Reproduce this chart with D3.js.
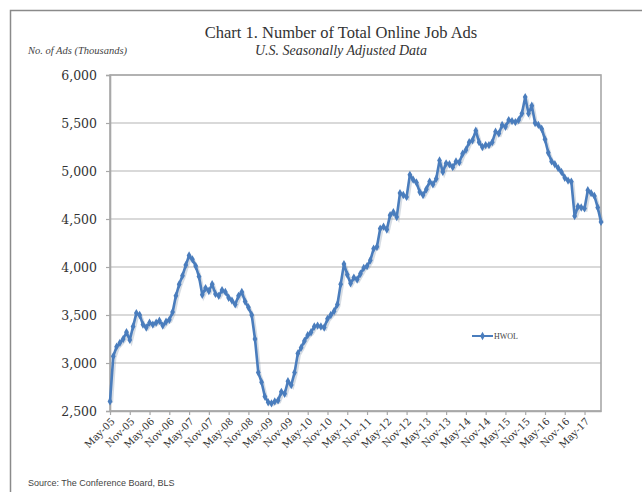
<!DOCTYPE html>
<html>
<head>
<meta charset="utf-8">
<script src="https://cdn.jsdelivr.net/npm/d3@7"></script>
<style>
  html, body { margin: 0; padding: 0; background: #fff; }
  svg { display: block; }
</style>
</head>
<body>
<svg id="chart" width="642" height="492"></svg>
<script>
// Monthly series, May 2005 through September 2017 (thousands of ads)
const startMonth = "2005-05";
const hwolValues = [
  2600, 3070, 3170, 3210, 3250, 3320, 3240, 3380, 3520, 3500, 3400, 3370,
  3420, 3400, 3420, 3440, 3390, 3430, 3450, 3530, 3700, 3820, 3910, 4020,
  4120, 4080, 4010, 3900, 3710, 3780, 3750, 3820, 3720, 3700, 3760, 3740,
  3680, 3650, 3610, 3700, 3740, 3640, 3580, 3500, 3250, 2900, 2800, 2650,
  2590, 2580, 2600, 2610, 2700, 2680, 2810, 2770, 2900, 3100, 3160, 3230,
  3290, 3320, 3380, 3390, 3380, 3370, 3460, 3500, 3540, 3610, 3820, 4030,
  3920, 3830, 3890, 3870, 3930, 3990, 4010, 4070, 4190, 4210, 4400, 4420,
  4390, 4540, 4570, 4520, 4770, 4750, 4730, 4960, 4910, 4880, 4780, 4750,
  4810, 4890, 4860, 4920, 5110, 4990, 5080, 5070, 5040, 5100, 5090, 5180,
  5220, 5300, 5320, 5420, 5300, 5250, 5270, 5270, 5300, 5410, 5390, 5480,
  5460, 5530, 5520, 5510, 5530, 5600, 5770, 5600, 5680, 5500, 5480, 5440,
  5330, 5190, 5100, 5070, 5030, 4990, 4930, 4900, 4890, 4530, 4630, 4620,
  4610, 4800, 4770, 4740, 4620, 4470
];
const yTicks = [2500, 3000, 3500, 4000, 4500, 5000, 5500, 6000];
const xTickLabels = [
  "May-05", "Nov-05", "May-06", "Nov-06", "May-07", "Nov-07", "May-08", "Nov-08",
  "May-09", "Nov-09", "May-10", "Nov-10", "May-11", "Nov-11", "May-12", "Nov-12",
  "May-13", "Nov-13", "May-14", "Nov-14", "May-15", "Nov-15", "May-16", "Nov-16",
  "May-17"
];
const seriesName = "HWOL";

const parseMonth = d3.timeParse("%Y-%m");
const first = parseMonth(startMonth);
const months = hwolValues.map((_, i) => d3.timeMonth.offset(first, i));
const data = hwolValues.map((v, i) => ({ i, date: months[i], value: v }));

const svg = d3.select("#chart");
const plot = { left: 110, right: 601, top: 75, bottom: 411 };

const x = d3.scaleLinear().domain([0, hwolValues.length - 1]).range([plot.left, plot.right]);
const y = d3.scaleLinear().domain([2500, 6000]).range([plot.bottom, plot.top]);

const serif = "'DejaVu Serif', 'Liberation Serif', serif";
const titleSerif = "'Liberation Serif', 'DejaVu Serif', serif";
const blue = "#4a7dbd";

// Outer frame
svg.append("rect")
  .attr("x", 10.5).attr("y", 10.5)
  .attr("width", 700).attr("height", 520)
  .attr("fill", "none").attr("stroke", "#8a8a8a").attr("stroke-width", 1.5);

// Titles
svg.append("text")
  .attr("x", 341).attr("y", 38)
  .attr("text-anchor", "middle")
  .attr("font-family", titleSerif).attr("font-size", 16.5)
  .attr("fill", "#333")
  .text("Chart 1. Number of Total Online Job Ads");
svg.append("text")
  .attr("x", 341).attr("y", 55)
  .attr("text-anchor", "middle")
  .attr("font-family", titleSerif).attr("font-style", "italic").attr("font-size", 14)
  .attr("fill", "#333")
  .text("U.S. Seasonally Adjusted Data");
svg.append("text")
  .attr("x", 28).attr("y", 54)
  .attr("font-family", titleSerif).attr("font-style", "italic").attr("font-size", 10.5)
  .attr("fill", "#444")
  .text("No. of Ads (Thousands)");

// Horizontal gridlines
svg.append("g")
  .selectAll("line")
  .data(yTicks)
  .join("line")
  .attr("x1", plot.left).attr("x2", plot.right)
  .attr("y1", d => y(d)).attr("y2", d => y(d))
  .attr("stroke", "#b4b4b4").attr("stroke-width", 1.2);

// Plot area border
svg.append("rect")
  .attr("x", plot.left).attr("y", plot.top)
  .attr("width", plot.right - plot.left).attr("height", plot.bottom - plot.top)
  .attr("fill", "none").attr("stroke", "#a8a8a8").attr("stroke-width", 1.6);

// Y axis
const yAxis = svg.append("g")
  .attr("transform", `translate(${plot.left},0)`)
  .call(d3.axisLeft(y).tickValues(yTicks).tickFormat(d3.format(",")).tickSize(4).tickPadding(9));
yAxis.select(".domain").attr("stroke", "#a8a8a8").attr("stroke-width", 1.6);
yAxis.selectAll(".tick line").attr("stroke", "#a8a8a8").attr("stroke-width", 1.2);
yAxis.selectAll(".tick text")
  .attr("font-family", serif).attr("font-size", 12.5).attr("fill", "#333");

// X axis: a labelled tick every six months
const xTickIdx = xTickLabels.map((_, k) => k * 6);
const xAxis = svg.append("g")
  .attr("transform", `translate(0,${plot.bottom})`)
  .call(d3.axisBottom(x).tickValues(xTickIdx)
    .tickFormat((d, k) => xTickLabels[k]).tickSize(4).tickSizeOuter(0));
xAxis.select(".domain").attr("stroke", "#a8a8a8").attr("stroke-width", 1.6);
xAxis.selectAll(".tick line").attr("stroke", "#a8a8a8").attr("stroke-width", 1.2);
xAxis.selectAll(".tick text")
  .attr("font-family", serif).attr("font-size", 10).attr("fill", "#333")
  .attr("text-anchor", "end")
  .attr("dy", 0).attr("y", 0)
  .attr("transform", "translate(5,11) rotate(-45)");

// Series line with diamond markers
const line = d3.line().x(d => x(d.i)).y(d => y(d.value));
const diamond = d3.symbol().type(d3.symbolDiamond).size(20);

svg.append("path")
  .datum(data)
  .attr("d", line)
  .attr("transform", "translate(1.5,1.5)")
  .attr("fill", "none").attr("stroke", "#8a9ab0").attr("stroke-opacity", 0.35)
  .attr("stroke-width", 3.2);

svg.append("path")
  .datum(data)
  .attr("d", line)
  .attr("fill", "none").attr("stroke", blue)
  .attr("stroke-width", 2.6).attr("stroke-linejoin", "round");

svg.append("g")
  .selectAll("path")
  .data(data)
  .join("path")
  .attr("d", diamond)
  .attr("transform", d => `translate(${x(d.i)},${y(d.value)})`)
  .attr("fill", blue);

// Legend
const legend = svg.append("g").attr("transform", "translate(472,336)");
legend.append("line")
  .attr("x1", 0).attr("x2", 21).attr("y1", 0).attr("y2", 0)
  .attr("stroke", blue).attr("stroke-width", 2);
legend.append("path")
  .attr("d", diamond)
  .attr("transform", "translate(10.5,0)")
  .attr("fill", blue);
legend.append("text")
  .attr("x", 22).attr("y", 3)
  .attr("font-family", titleSerif).attr("font-size", 8)
  .attr("fill", "#444")
  .text(seriesName);

// Source note
svg.append("text")
  .attr("x", 28).attr("y", 486)
  .attr("font-family", "'Liberation Sans', Arial, sans-serif").attr("font-size", 9)
  .attr("fill", "#444")
  .text("Source: The Conference Board, BLS");
</script>
</body>
</html>
